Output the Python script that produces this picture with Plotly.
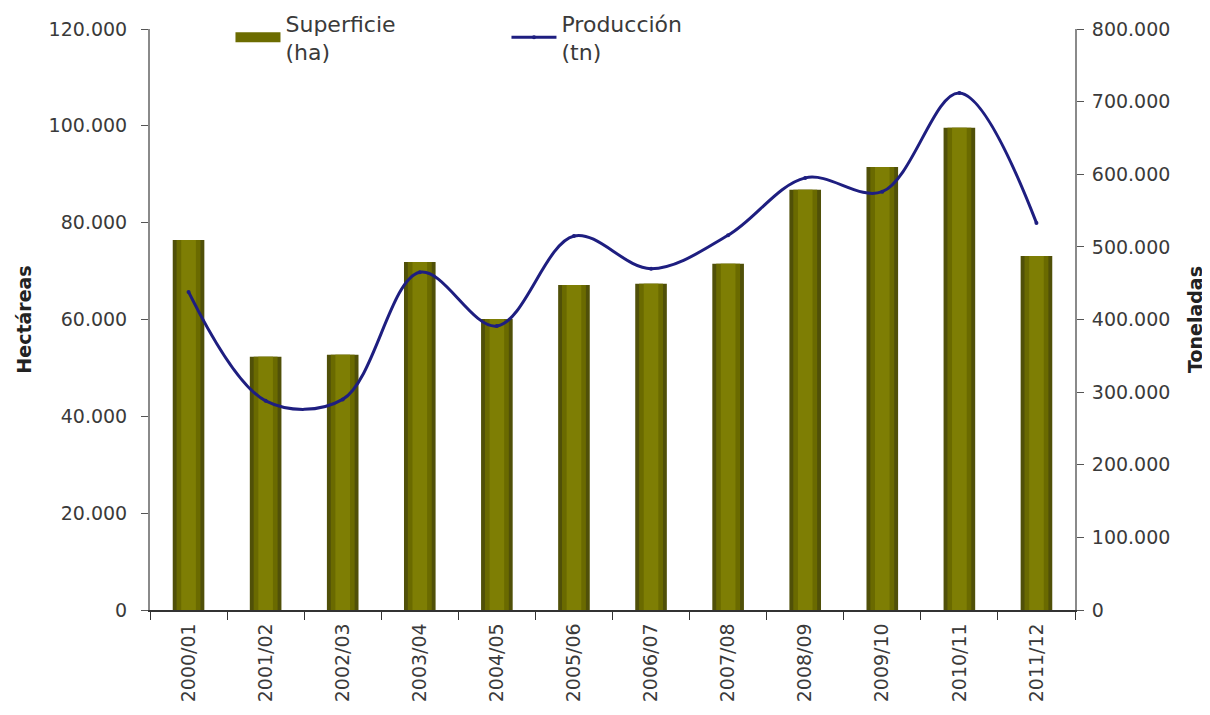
import plotly.graph_objects as go

campaigns = ["2000/01", "2001/02", "2002/03", "2003/04", "2004/05", "2005/06",
             "2006/07", "2007/08", "2008/09", "2009/10", "2010/11", "2011/12"]
superficie_ha = [76400, 52300, 52700, 71900, 60100, 67100, 67400, 71500, 86800, 91500, 99600, 73100]
produccion_tn = [438000, 288000, 290000, 465000, 391000, 515000, 470000, 516000, 595000, 576000, 712000, 533000]

left_ticks = [0, 20000, 40000, 60000, 80000, 100000, 120000]
right_ticks = [0, 100000, 200000, 300000, 400000, 500000, 600000, 700000, 800000]

font_family = "DejaVu Sans, Verdana, sans-serif"
txt = "#3a3a3a"
olive = "#6c6c00"
navy = "#1e1e80"

fig = go.Figure()

# shaded bars (layered for a cylinder-like look)
fig.add_trace(go.Bar(x=campaigns, y=superficie_ha, width=0.41, showlegend=False, name="Superficie (ha)",
                     marker=dict(color="#505008", line=dict(width=0)), yaxis="y"))
fig.add_trace(go.Bar(x=campaigns, y=superficie_ha, width=0.31, showlegend=False, hoverinfo="skip",
                     marker=dict(color="#6a6a00", line=dict(width=0)), yaxis="y"))
fig.add_trace(go.Bar(x=campaigns, y=superficie_ha, width=0.19, showlegend=False, hoverinfo="skip",
                     marker=dict(color="#7e7e04", line=dict(width=0)), yaxis="y"))

# legend key for the bars (wide rectangle like the original)
fig.add_trace(go.Scatter(x=[None], y=[None], mode="lines", name="Superficie<br>(ha)",
                         line=dict(color=olive, width=12), yaxis="y"))

fig.add_trace(go.Scatter(x=campaigns, y=produccion_tn, name="Producción<br>(tn)", yaxis="y2",
                         mode="lines+markers",
                         line=dict(color=navy, width=3, shape="spline", smoothing=1.0),
                         marker=dict(size=4, color=navy)))

fig.update_layout(
    width=1202, height=707,
    margin=dict(l=142, r=135, t=21, b=105, autoexpand=False),
    paper_bgcolor="white", plot_bgcolor="white",
    barmode="overlay",
    separators=",.",
    font=dict(family=font_family, size=19, color=txt),
    showlegend=True,
    legend=dict(orientation="h", x=0.087, y=1.046, xanchor="left", yanchor="top",
                font=dict(size=22, color=txt), bgcolor="rgba(0,0,0,0)", itemwidth=45,
                entrywidth=216, entrywidthmode="pixels", traceorder="normal"),
    xaxis=dict(type="category", range=[-0.5, 11.5], showline=True, linecolor="#333333", linewidth=1.5,
               ticks="outside", tickson="boundaries", ticklen=8, tickcolor="#333333",
               tickangle=-90, tickfont=dict(size=19, color=txt), showgrid=False, zeroline=False,
               ticklabelstandoff=4),
    yaxis=dict(range=[0, 120000], tickvals=left_ticks, tickformat=",d", showline=True, linecolor="#8a8a8a",
               linewidth=2, ticks="outside", ticklen=7, tickcolor="#555555", showgrid=False, zeroline=False,
               tickfont=dict(size=19, color=txt), ticklabelstandoff=10,
               title=dict(text="<b>Hectáreas</b>", font=dict(size=19, color="#222222"), standoff=12)),
    yaxis2=dict(range=[0, 800000], tickvals=right_ticks, tickformat=",d", overlaying="y", side="right",
                showline=True, linecolor="#8a8a8a", linewidth=2, ticks="outside", ticklen=7,
                tickcolor="#555555", showgrid=False, zeroline=False, tickfont=dict(size=19, color=txt),
                ticklabelstandoff=4,
                title=dict(text="<b>Toneladas</b>", font=dict(size=19, color="#222222"), standoff=19)),
)

fig.write_html("out.html")
